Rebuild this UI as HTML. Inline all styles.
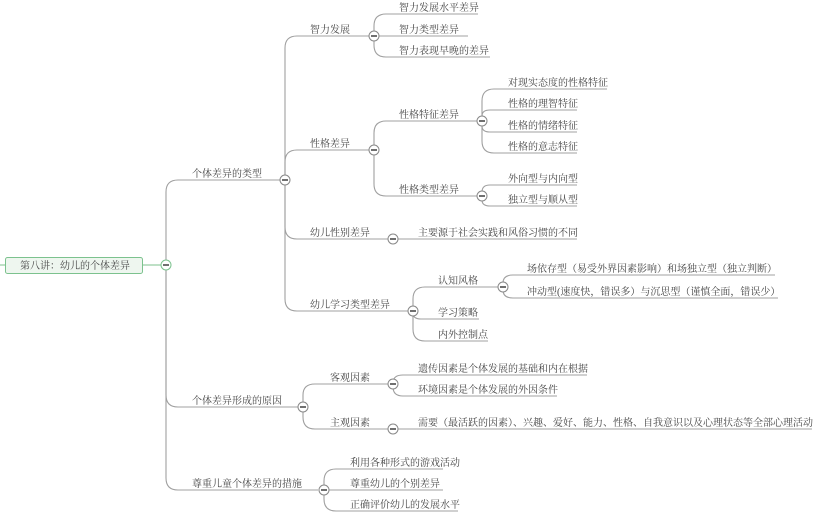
<!DOCTYPE html>
<html><head><meta charset="utf-8"><style>
html,body{margin:0;padding:0;background:#fff;}
svg{display:block;}
text{font-family:"Liberation Serif","Noto Serif CJK SC",serif;font-size:10px;fill:#444;}
.l{fill:none;stroke:#a0a0a0;stroke-width:1.1;}
.c{fill:#fff;stroke:#888;stroke-width:1;}
.m{stroke:#333;stroke-width:1.4;}
</style></head><body>
<svg width="839" height="515" viewBox="0 0 839 515" xmlns="http://www.w3.org/2000/svg">
<line x1="0" y1="265" x2="5" y2="265" stroke="#7cc28e"/>
<rect x="5.5" y="257.5" width="137" height="16" rx="2" fill="#eef6ef" stroke="#7cc28e"/>
<text x="20" y="269">第八讲：幼儿的个体差异</text>
<line x1="142" y1="265" x2="161" y2="265" stroke="#7cc28e"/>

<path class="l" d="M166 265 V192 Q166 180 178 180 H280"/>
<path class="l" d="M166 265 V395 Q166 407 178 407 H298"/>
<path class="l" d="M166 265 V478 Q166 490 178 490 H318"/>
<text x="192" y="177">个体差异的类型</text>
<text x="192" y="404">个体差异形成的原因</text>
<text x="192" y="487">尊重儿童个体差异的措施</text>

<path class="l" d="M285 180 V48 Q285 36 297 36 H369"/>
<path class="l" d="M285 180 V162 Q285 150 297 150 H369"/>
<path class="l" d="M285 180 V227 Q285 239 297 239 H388"/>
<path class="l" d="M285 180 V299 Q285 311 297 311 H408"/>
<text x="310" y="33">智力发展</text>
<text x="310" y="147">性格差异</text>
<text x="310" y="236">幼儿性别差异</text>
<text x="310" y="308">幼儿学习类型差异</text>

<path class="l" d="M374 36 V26 Q374 14 386 14 H478"/>
<path class="l" d="M374 36 H468"/>
<path class="l" d="M374 36 V45 Q374 57 386 57 H490"/>
<text x="399" y="11">智力发展水平差异</text>
<text x="399" y="33">智力类型差异</text>
<text x="399" y="54">智力表现早晚的差异</text>

<path class="l" d="M374 150 V133 Q374 121 386 121 H477"/>
<path class="l" d="M374 150 V184 Q374 196 386 196 H477"/>
<text x="399" y="118">性格特征差异</text>
<text x="399" y="193">性格类型差异</text>

<path class="l" d="M482 121 V101 Q482 89 494 89 H607"/>
<path class="l" d="M482 121 V116 Q482 110 490 110 H577"/>
<path class="l" d="M482 121 V126 Q482 132 490 132 H577"/>
<path class="l" d="M482 121 V141 Q482 153 494 153 H577"/>
<text x="508" y="86">对现实态度的性格特征</text>
<text x="508" y="107">性格的理智特征</text>
<text x="508" y="129">性格的情绪特征</text>
<text x="508" y="150">性格的意志特征</text>

<path class="l" d="M482 196 V192 Q482 185 490 185 H577"/>
<path class="l" d="M482 196 V200 Q482 206 490 206 H577"/>
<text x="508" y="182">外向型与内向型</text>
<text x="508" y="203">独立型与顺从型</text>

<path class="l" d="M393 239 H577"/>
<text x="418" y="236">主要源于社会实践和风俗习惯的不同</text>

<path class="l" d="M413 311 V299 Q413 287 425 287 H498"/>
<path class="l" d="M413 311 V313 Q413 319 421 319 H479"/>
<path class="l" d="M413 311 V329 Q413 341 425 341 H488"/>
<text x="438" y="284">认知风格</text>
<text x="438" y="316">学习策略</text>
<text x="438" y="338">内外控制点</text>

<path class="l" d="M503 287 V283 Q503 275 513 275 H775"/>
<path class="l" d="M503 287 V290 Q503 298 513 298 H778"/>
<text x="527" y="272">场依存型（易受外界因素影响）和场独立型（独立判断）</text>
<text x="527" y="295">冲动型(速度快，错误多）与沉思型（谨慎全面，错误少）</text>

<path class="l" d="M303 407 V395 Q303 384 315 384 H388"/>
<path class="l" d="M303 407 V417 Q303 429 315 429 H388"/>
<text x="330" y="381">客观因素</text>
<text x="330" y="426">主观因素</text>
<path class="l" d="M393 384 V383 Q393 375 403 375 H587"/>
<path class="l" d="M393 384 V387 Q393 396 403 396 H557"/>
<text x="418" y="372">遗传因素是个体发展的基础和内在根据</text>
<text x="418" y="393">环境因素是个体发展的外因条件</text>
<path class="l" d="M393 429 H812"/>
<text x="418" y="426">需要（最活跃的因素）、兴趣、爱好、能力、性格、自我意识以及心理状态等全部心理活动</text>

<path class="l" d="M324 490 V481 Q324 469 336 469 H443"/>
<path class="l" d="M324 490 H443"/>
<path class="l" d="M324 490 V499 Q324 511 336 511 H458"/>
<text x="350" y="466">利用各种形式的游戏活动</text>
<text x="350" y="487">尊重幼儿的个别差异</text>
<text x="350" y="508">正确评价幼儿的发展水平</text>

<g>
<circle cx="166" cy="265" r="5" fill="#fff" stroke="#7cc28e"/><line class="m" x1="163" y1="265" x2="169" y2="265"/>
<circle class="c" cx="285" cy="180" r="5"/><line class="m" x1="282" y1="180" x2="288" y2="180"/>
<circle class="c" cx="303" cy="407" r="5"/><line class="m" x1="300" y1="407" x2="306" y2="407"/>
<circle class="c" cx="324" cy="490" r="5"/><line class="m" x1="321" y1="490" x2="327" y2="490"/>
<circle class="c" cx="374" cy="36" r="5"/><line class="m" x1="371" y1="36" x2="377" y2="36"/>
<circle class="c" cx="374" cy="150" r="5"/><line class="m" x1="371" y1="150" x2="377" y2="150"/>
<circle class="c" cx="393" cy="239" r="5"/><line class="m" x1="390" y1="239" x2="396" y2="239"/>
<circle class="c" cx="413" cy="311" r="5"/><line class="m" x1="410" y1="311" x2="416" y2="311"/>
<circle class="c" cx="482" cy="121" r="5"/><line class="m" x1="479" y1="121" x2="485" y2="121"/>
<circle class="c" cx="482" cy="196" r="5"/><line class="m" x1="479" y1="196" x2="485" y2="196"/>
<circle class="c" cx="503" cy="287" r="5"/><line class="m" x1="500" y1="287" x2="506" y2="287"/>
<circle class="c" cx="393" cy="384" r="5"/><line class="m" x1="390" y1="384" x2="396" y2="384"/>
<circle class="c" cx="393" cy="429" r="5"/><line class="m" x1="390" y1="429" x2="396" y2="429"/>
</g>
</svg>
</body></html>
